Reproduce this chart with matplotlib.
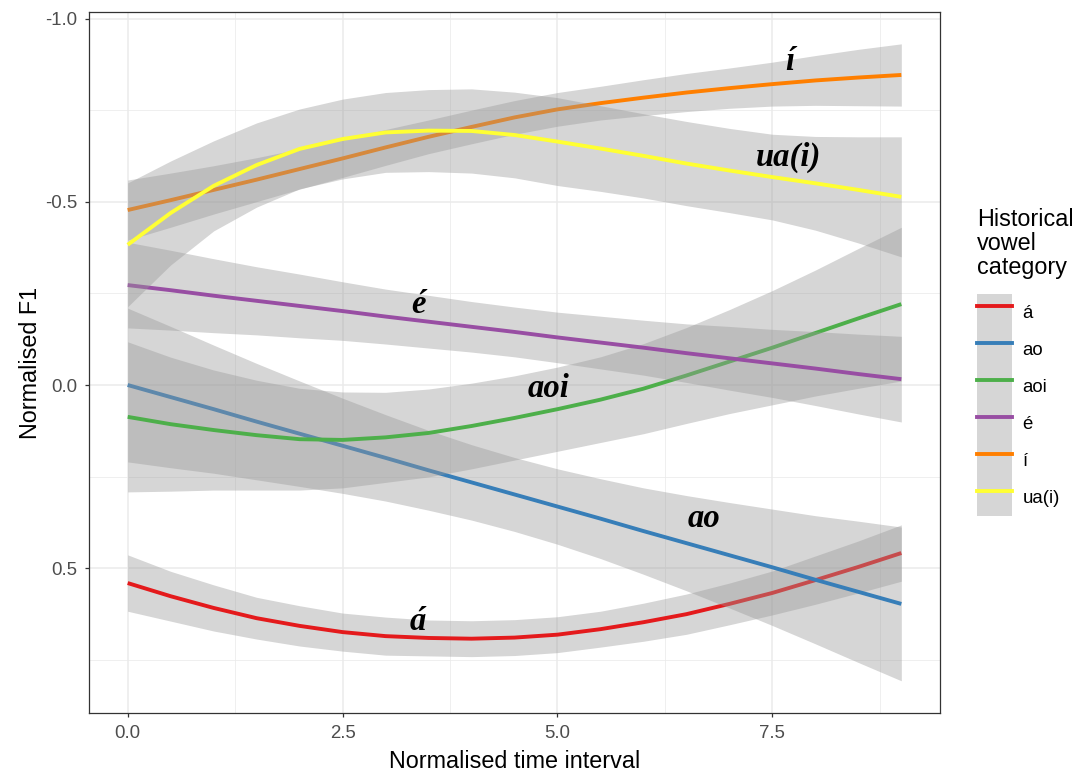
import numpy as np
import matplotlib
matplotlib.use("Agg")
import matplotlib.pyplot as plt
from matplotlib.patches import Patch
from matplotlib.lines import Line2D

plt.rcParams['font.family'] = ['Liberation Sans', 'DejaVu Sans']

# normalised time points (read every half step)
t = np.arange(0, 9.01, 0.5)

categories = ['á', 'ao', 'aoi', 'é', 'í', 'ua(i)']
colours = ['#E41A1C', '#377EB8', '#4DAF4A', '#984EA3', '#FF7F00', '#FFFF33']

# smoothed F1 values
fit_a = [0.541, 0.577, 0.609, 0.637, 0.658, 0.675, 0.686, 0.691, 0.693, 0.690,
         0.682, 0.667, 0.648, 0.626, 0.598, 0.568, 0.533, 0.497, 0.459]
fit_ao = [0.000, 0.033, 0.066, 0.100, 0.133, 0.166, 0.199, 0.233, 0.266, 0.299,
          0.332, 0.365, 0.399, 0.432, 0.465, 0.498, 0.532, 0.565, 0.598]
fit_aoi = [0.087, 0.107, 0.123, 0.137, 0.148, 0.150, 0.143, 0.131, 0.112, 0.090,
           0.066, 0.040, 0.010, -0.026, -0.064, -0.102, -0.142, -0.182, -0.221]
fit_e = [-0.273, -0.259, -0.244, -0.230, -0.216, -0.202, -0.187, -0.173, -0.159, -0.145,
         -0.130, -0.116, -0.102, -0.087, -0.073, -0.059, -0.045, -0.030, -0.016]
fit_i = [-0.478, -0.505, -0.533, -0.561, -0.590, -0.619, -0.649, -0.678, -0.705, -0.731,
         -0.753, -0.770, -0.785, -0.799, -0.811, -0.822, -0.832, -0.840, -0.847]
fit_ua = [-0.383, -0.470, -0.544, -0.601, -0.645, -0.672, -0.690, -0.695, -0.694, -0.683,
          -0.665, -0.646, -0.626, -0.605, -0.586, -0.568, -0.551, -0.533, -0.514]

# half widths of the confidence bands
se_a = [0.077, 0.068, 0.063, 0.057, 0.055, 0.052, 0.052, 0.049, 0.049, 0.049,
        0.049, 0.049, 0.052, 0.055, 0.057, 0.060, 0.066, 0.071, 0.077]
se_ao = [0.210, 0.193, 0.175, 0.159, 0.144, 0.130, 0.118, 0.109, 0.103, 0.101,
         0.103, 0.109, 0.118, 0.130, 0.144, 0.159, 0.175, 0.193, 0.210]
se_aoi = [0.205, 0.183, 0.164, 0.150, 0.139, 0.131, 0.123, 0.120, 0.117, 0.115,
          0.115, 0.117, 0.123, 0.131, 0.142, 0.156, 0.172, 0.191, 0.210]
se_e = [0.117, 0.109, 0.101, 0.093, 0.087, 0.080, 0.075, 0.072, 0.069, 0.068,
        0.069, 0.072, 0.075, 0.080, 0.087, 0.093, 0.101, 0.109, 0.117]
se_i = [0.082, 0.074, 0.066, 0.060, 0.055, 0.052, 0.049, 0.046, 0.046, 0.046,
        0.046, 0.046, 0.049, 0.052, 0.055, 0.060, 0.068, 0.077, 0.085]
se_ua = [0.169, 0.142, 0.123, 0.115, 0.109, 0.109, 0.109, 0.112, 0.115, 0.117,
         0.120, 0.117, 0.115, 0.115, 0.115, 0.117, 0.128, 0.145, 0.164]

fits = [fit_a, fit_ao, fit_aoi, fit_e, fit_i, fit_ua]
ses = [se_a, se_ao, se_aoi, se_e, se_i, se_ua]

# in-plot labels (x, y at baseline)
lab_text = ['í', 'ua(i)', 'é', 'aoi', 'ao', 'á']
lab_x = [7.70, 7.69, 3.38, 4.90, 6.71, 3.38]
lab_y = [-0.861, -0.598, -0.197, 0.033, 0.388, 0.669]

fig = plt.figure(figsize=(10.79, 7.73), dpi=100)
ax = fig.add_axes([89 / 1079, 1 - 713 / 773, (940 - 89) / 1079, (713 - 12) / 773])

z = 3
for fit, se, col in zip(fits, ses, colours):
    fit = np.array(fit)
    se = np.array(se)
    ax.fill_between(t, fit - se, fit + se, color='#999999', alpha=0.4,
                    linewidth=0, zorder=z)
    ax.plot(t, fit, color=col, lw=2.8, solid_capstyle='butt',
            solid_joinstyle='round', zorder=z + 1)
    z += 2

for s, x, y in zip(lab_text, lab_x, lab_y):
    ax.text(x, y, s, family='Liberation Serif', fontweight='bold', fontstyle='italic',
            fontsize=23.5, ha='center', va='baseline', zorder=20)

ax.set_xlim(-0.45, 9.45)
ax.set_ylim(0.896, -1.019)
ax.set_xticks([0, 2.5, 5, 7.5])
ax.set_xticklabels(['0.0', '2.5', '5.0', '7.5'])
ax.set_yticks([-1.0, -0.5, 0.0, 0.5])
ax.set_yticklabels(['-1.0', '-0.5', '0.0', '0.5'])
ax.set_xticks([1.25, 3.75, 6.25, 8.75], minor=True)
ax.set_yticks([-0.75, -0.25, 0.25, 0.75], minor=True)
ax.grid(which='major', color='#EBEBEB', lw=1.1, zorder=0)
ax.grid(which='minor', color='#EBEBEB', lw=0.55, zorder=0)
ax.set_axisbelow(True)
ax.tick_params(which='major', length=3, width=0.9, color='#333333',
               labelsize=13.4, labelcolor='#4D4D4D', pad=5.5)
ax.tick_params(which='minor', length=0)
for sp in ax.spines.values():
    sp.set_color('#333333')
    sp.set_linewidth(0.9)

ax.set_xlabel('Normalised time interval', fontsize=16.8, labelpad=6)
ax.set_ylabel('Normalised F1', fontsize=16.8, labelpad=2)

# legend
handles = [(Patch(facecolor='#D6D6D6', edgecolor='none'),
            Line2D([], [], color=c, lw=2.8)) for c in colours]
ax.legend(handles, categories, loc='upper left',
          bbox_to_anchor=(977 / 1079, 1 - 294 / 773), bbox_transform=fig.transFigure,
          frameon=False, borderpad=0, borderaxespad=0, labelspacing=0,
          handlelength=1.9, handleheight=2.68, handletextpad=0.55,
          prop={'family': 'Liberation Sans', 'size': 13.4})
fig.text(977 / 1079, 1 - 208 / 773, 'Historical\nvowel\ncategory', fontsize=16.8,
         ha='left', va='top', linespacing=1.05)

fig.savefig('out.png', dpi=100)
